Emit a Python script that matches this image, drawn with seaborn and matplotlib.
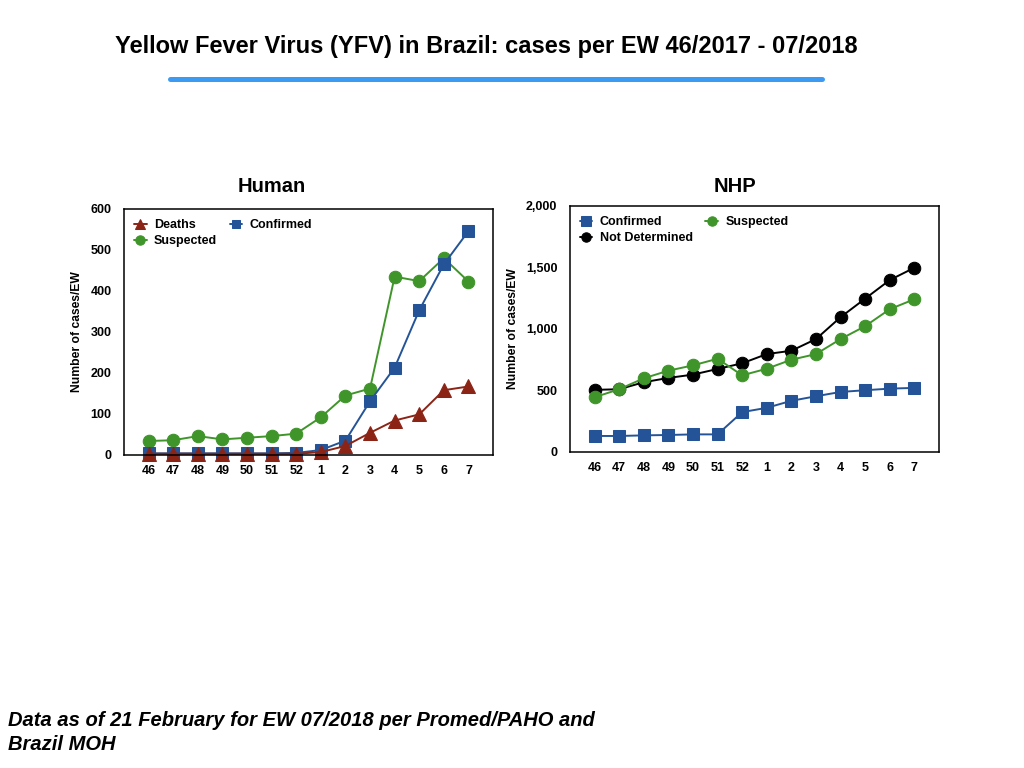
import numpy as np
import pandas as pd
import matplotlib
matplotlib.use('Agg')
import matplotlib.pyplot as plt
import seaborn as sns
from matplotlib.lines import Line2D

# epidemiological weeks 46/2017 - 07/2018
weeks = ['46', '47', '48', '49', '50', '51', '52', '1', '2', '3', '4', '5', '6', '7']

# Human cases per EW
human_deaths = [3, 3, 3, 3, 3, 3, 3, 7, 22, 54, 84, 99, 158, 167]
human_confirmed = [4, 4, 4, 4, 4, 4, 5, 12, 35, 131, 213, 353, 465, 546]
human_suspected = [34, 36, 46, 38, 42, 46, 52, 92, 145, 162, 435, 424, 480, 423]

# Non-human primate cases per EW
nhp_confirmed = [130, 130, 135, 138, 143, 143, 324, 359, 416, 453, 488, 502, 515, 521]
nhp_not_determined = [505, 510, 567, 602, 629, 675, 721, 796, 823, 918, 1096, 1247, 1398, 1498]
nhp_suspected = [445, 510, 599, 661, 704, 758, 623, 677, 750, 796, 918, 1023, 1161, 1242]

RED = '#8c2416'
BLUE = '#245497'
GREEN = '#3f952a'
BLACK = '#000000'

sns.set_style('white')
plt.rcParams['font.family'] = ['Liberation Sans', 'DejaVu Sans']
plt.rcParams['font.weight'] = 'bold'
plt.rcParams['text.color'] = 'black'
plt.rcParams['xtick.color'] = 'black'
plt.rcParams['ytick.color'] = 'black'
plt.rcParams['axes.labelcolor'] = 'black'

fig = plt.figure(figsize=(10.24, 7.68), dpi=100)
fig.patch.set_facecolor('white')

pos = np.arange(len(weeks))


def draw_panel(ax, series, legend_order, ymax, step, fmt):
    # series drawn in the given order (later = on top)
    handles = {}
    for label, vals, color, marker, ms in series:
        sns.lineplot(x=pos, y=vals, ax=ax, color=color, marker=marker, markersize=ms,
                     markeredgecolor=color, linewidth=1.4, label=label, clip_on=False)
        handles[label] = ax.lines[-1]
    ax.set_xlim(-1, len(weeks))
    ax.set_ylim(0, ymax)
    ax.set_xticks(pos)
    ax.set_xticklabels(weeks)
    yt = np.arange(0, ymax + 1, step)
    ax.set_yticks(yt)
    ax.set_yticklabels([fmt(v) for v in yt])
    ax.tick_params(axis='x', length=0, pad=7.5, labelsize=9)
    ax.tick_params(axis='y', length=0, pad=9, labelsize=9)
    for lab in ax.get_xticklabels() + ax.get_yticklabels():
        lab.set_fontweight('bold')
    for sp in ax.spines.values():
        sp.set_color('black')
        sp.set_linewidth(1.1)
    ax.set_xlabel('')
    ax.set_ylabel('Number of cases/EW', fontsize=8.7, fontweight='bold', labelpad=5)
    ax.legend([handles[k] for k in legend_order], legend_order,
              loc='upper left', ncol=2, frameon=False, handlelength=1.0,
              handletextpad=0.6, columnspacing=1.0, labelspacing=0.35,
              borderaxespad=0.4, markerscale=0.75, prop={'weight': 'bold', 'size': 9})


ax1 = fig.add_axes([0.1211, 0.4076, 0.3604, 0.3203])
draw_panel(ax1, [
    ('Suspected', human_suspected, GREEN, 'o', 9),
    ('Confirmed', human_confirmed, BLUE, 's', 8.5),
    ('Deaths', human_deaths, RED, '^', 9.5),
], ['Deaths', 'Suspected', 'Confirmed'], 600, 100, lambda v: '%d' % v)

ax2 = fig.add_axes([0.5566, 0.4115, 0.3604, 0.3203])
draw_panel(ax2, [
    ('Not Determined', nhp_not_determined, BLACK, 'o', 9),
    ('Suspected', nhp_suspected, GREEN, 'o', 9),
    ('Confirmed', nhp_confirmed, BLUE, 's', 9),
], ['Confirmed', 'Not Determined', 'Suspected'], 2000, 500, lambda v: '{:,}'.format(int(v)))

# panel titles
fig.text(272 / 1024, 1 - 186 / 768, 'Human', ha='center', va='center', fontsize=14.5, fontweight='bold')
fig.text(735 / 1024, 1 - 186 / 768, 'NHP', ha='center', va='center', fontsize=14.5, fontweight='bold')

# main title + rule
fig.text(486 / 1024, 1 - 46 / 768, 'Yellow Fever Virus (YFV) in Brazil: cases per EW 46/2017 - 07/2018',
         ha='center', va='center', fontsize=17, fontweight='bold')
fig.add_artist(Line2D([170 / 1024, 822 / 1024], [1 - 79 / 768, 1 - 79 / 768],
                      color='#3d9af2', linewidth=3.6, transform=fig.transFigure))

# footnote
fig.text(8 / 1024, 1 - 720 / 768, 'Data as of 21 February for EW 07/2018 per Promed/PAHO and',
         ha='left', va='center', fontsize=14.5, fontweight='bold', style='italic')
fig.text(8 / 1024, 1 - 745 / 768, 'Brazil MOH',
         ha='left', va='center', fontsize=14.5, fontweight='bold', style='italic')

fig.savefig('out.png', dpi=100, facecolor='white')
